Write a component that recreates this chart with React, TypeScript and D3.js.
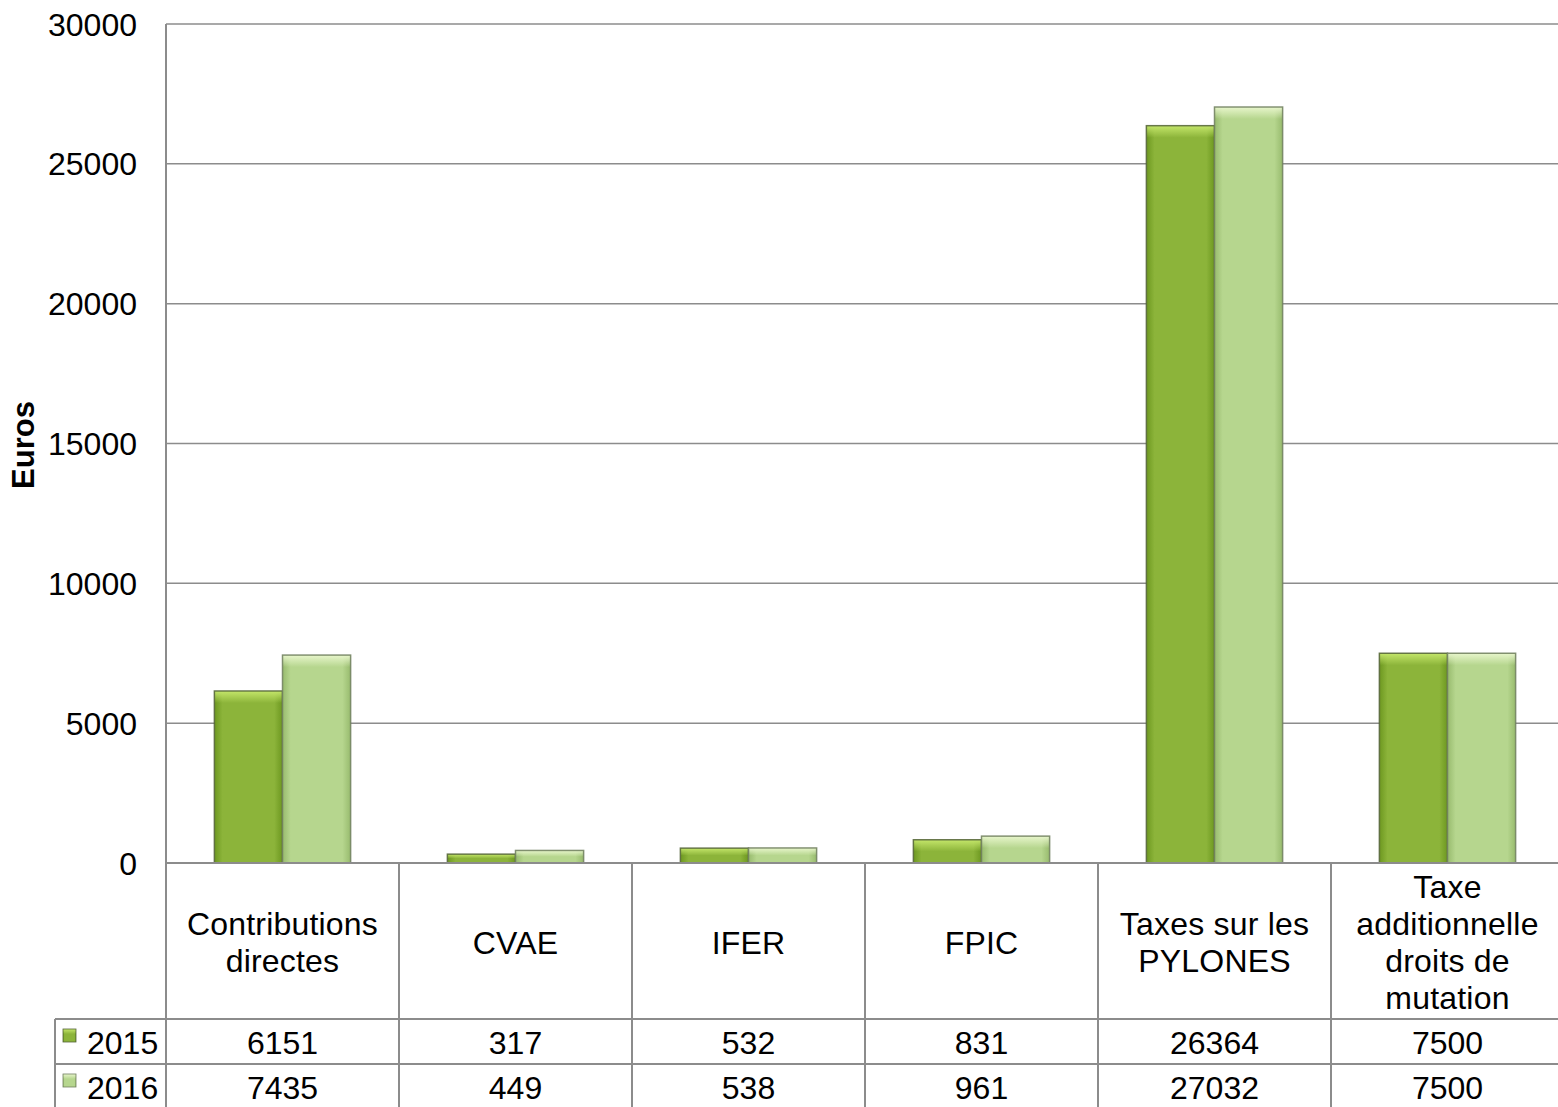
import React from "react";
import * as d3 from "d3";

const categories: string[][] = [
  ["Contributions", "directes"],
  ["CVAE"],
  ["IFER"],
  ["FPIC"],
  ["Taxes sur les", "PYLONES"],
  ["Taxe", "additionnelle", "droits de", "mutation"],
];
const series = ["2015", "2016"];
const values2015 = [6151, 317, 532, 831, 26364, 7500];
const values2016 = [7435, 449, 538, 961, 27032, 7500];
const yTicks = [0, 5000, 10000, 15000, 20000, 25000, 30000];
const yLabel = "Euros";

const W = 1558;
const H = 1107;
const left = 166;
const right = 1564;
const top = 24;
const zeroY = 863;
const labelRowBottom = 1019;
const row1Bottom = 1064;
const tableLeft = 55;

const palette = [
  { dark: "#6d9820", mid: "#8cb43a", light: "#c4e66a", stroke: "#55643a" },
  { dark: "#98bb6e", mid: "#b6d68e", light: "#e8f6cc", stroke: "#707f5e" },
];

const font = "'Liberation Sans', Arial, sans-serif";
const gridColor = "#8c8c8c";

export default function App() {
  const keys = categories.map((c) => c.join(" "));
  const x = d3.scaleBand<string>().domain(keys).range([left, right]).padding(0);
  const xi = d3
    .scaleBand<string>()
    .domain(series)
    .range([0, x.bandwidth()])
    .paddingInner(0)
    .paddingOuter(0.71);
  const y = d3.scaleLinear().domain([0, 30000]).range([zeroY, top]);
  const data = [values2015, values2016];

  const lineH = 37;
  const labelCenter = (zeroY + labelRowBottom) / 2 + 1;

  return (
    <svg
      width={W}
      height={H}
      style={{ position: "absolute", left: 0, top: 0, background: "#fff" }}
      fontFamily={font}
    >
      <defs>
        {palette.map((p, i) => (
          <React.Fragment key={i}>
            <linearGradient id={`hg${i}`} x1="0" x2="1" y1="0" y2="0">
              <stop offset="0" stopColor={p.dark} />
              <stop offset="0.12" stopColor={p.mid} />
              <stop offset="0.88" stopColor={p.mid} />
              <stop offset="1" stopColor={p.dark} />
            </linearGradient>
            <linearGradient id={`tg${i}`} x1="0" x2="0" y1="0" y2="1">
              <stop offset="0" stopColor={p.light} stopOpacity="1" />
              <stop offset="1" stopColor={p.light} stopOpacity="0" />
            </linearGradient>
          </React.Fragment>
        ))}
      </defs>
      <rect x={0} y={0} width={W} height={H} fill="#fff" />

      {yTicks.map((t) => (
        <line
          key={t}
          x1={left}
          x2={W}
          y1={y(t)}
          y2={y(t)}
          stroke={gridColor}
          strokeWidth={1.5}
        />
      ))}
      {yTicks.map((t) => (
        <text
          key={"l" + t}
          x={137}
          y={y(t)}
          dy="0.36em"
          textAnchor="end"
          fontSize={32}
          fill="#000"
        >
          {t}
        </text>
      ))}
      <text
        transform={`translate(34,445) rotate(-90)`}
        textAnchor="middle"
        fontSize={31}
        fontWeight="bold"
        fill="#000"
      >
        {yLabel}
      </text>

      {keys.map((k, ci) =>
        series.map((s, si) => {
          const v = data[si][ci];
          const bx = (x(k) ?? 0) + (xi(s) ?? 0);
          const bw = xi.bandwidth();
          const by = y(v);
          const bh = zeroY - by;
          const p = palette[si];
          const bev = Math.min(12, bh / 2);
          return (
            <g key={k + s}>
              <rect x={bx} y={by} width={bw} height={bh} fill={`url(#hg${si})`} />
              <rect x={bx} y={by} width={bw} height={bev} fill={`url(#tg${si})`} />
              <rect
                x={bx}
                y={by}
                width={bw}
                height={bh}
                fill="none"
                stroke={p.stroke}
                strokeWidth={1.5}
                strokeOpacity={0.85}
              />
            </g>
          );
        })
      )}

      <line x1={left} x2={left} y1={top} y2={H} stroke={gridColor} strokeWidth={2} />
      <line x1={left} x2={W} y1={zeroY} y2={zeroY} stroke={gridColor} strokeWidth={2} />

      {keys.slice(1).map((k) => (
        <line
          key={"v" + k}
          x1={x(k)}
          x2={x(k)}
          y1={zeroY}
          y2={H}
          stroke={gridColor}
          strokeWidth={2}
        />
      ))}
      <line x1={tableLeft} x2={tableLeft} y1={labelRowBottom} y2={H} stroke={gridColor} strokeWidth={2} />
      <line x1={tableLeft} x2={W} y1={labelRowBottom} y2={labelRowBottom} stroke={gridColor} strokeWidth={2} />
      <line x1={tableLeft} x2={W} y1={row1Bottom} y2={row1Bottom} stroke={gridColor} strokeWidth={2} />

      {categories.map((lines, ci) => {
        const cx = (x(keys[ci]) ?? 0) + x.bandwidth() / 2;
        const start = labelCenter - ((lines.length - 1) * lineH) / 2;
        return (
          <text key={"c" + ci} textAnchor="middle" fontSize={32} fill="#000" letterSpacing={0.2}>
            {lines.map((ln, li) => (
              <tspan key={li} x={cx} y={start + li * lineH} dy="0.36em">
                {ln}
              </tspan>
            ))}
          </text>
        );
      })}

      {series.map((s, si) => {
        const rowTop = si === 0 ? labelRowBottom : row1Bottom;
        const rowC = rowTop + 23;
        const p = palette[si];
        return (
          <g key={"r" + s}>
            <rect x={63} y={rowC - 13} width={13} height={13} fill={`url(#hg${si})`} />
            <rect x={63} y={rowC - 13} width={13} height={5} fill={`url(#tg${si})`} />
            <rect x={63} y={rowC - 13} width={13} height={13} fill="none" stroke={p.stroke} strokeWidth={0.8} />
            <text x={87} y={rowC} dy="0.36em" fontSize={32} fill="#000">
              {s}
            </text>
            {keys.map((k, ci) => (
              <text
                key={k}
                x={(x(k) ?? 0) + x.bandwidth() / 2}
                y={rowC}
                dy="0.36em"
                textAnchor="middle"
                fontSize={32}
                fill="#000"
              >
                {data[si][ci]}
              </text>
            ))}
          </g>
        );
      })}
    </svg>
  );
}
